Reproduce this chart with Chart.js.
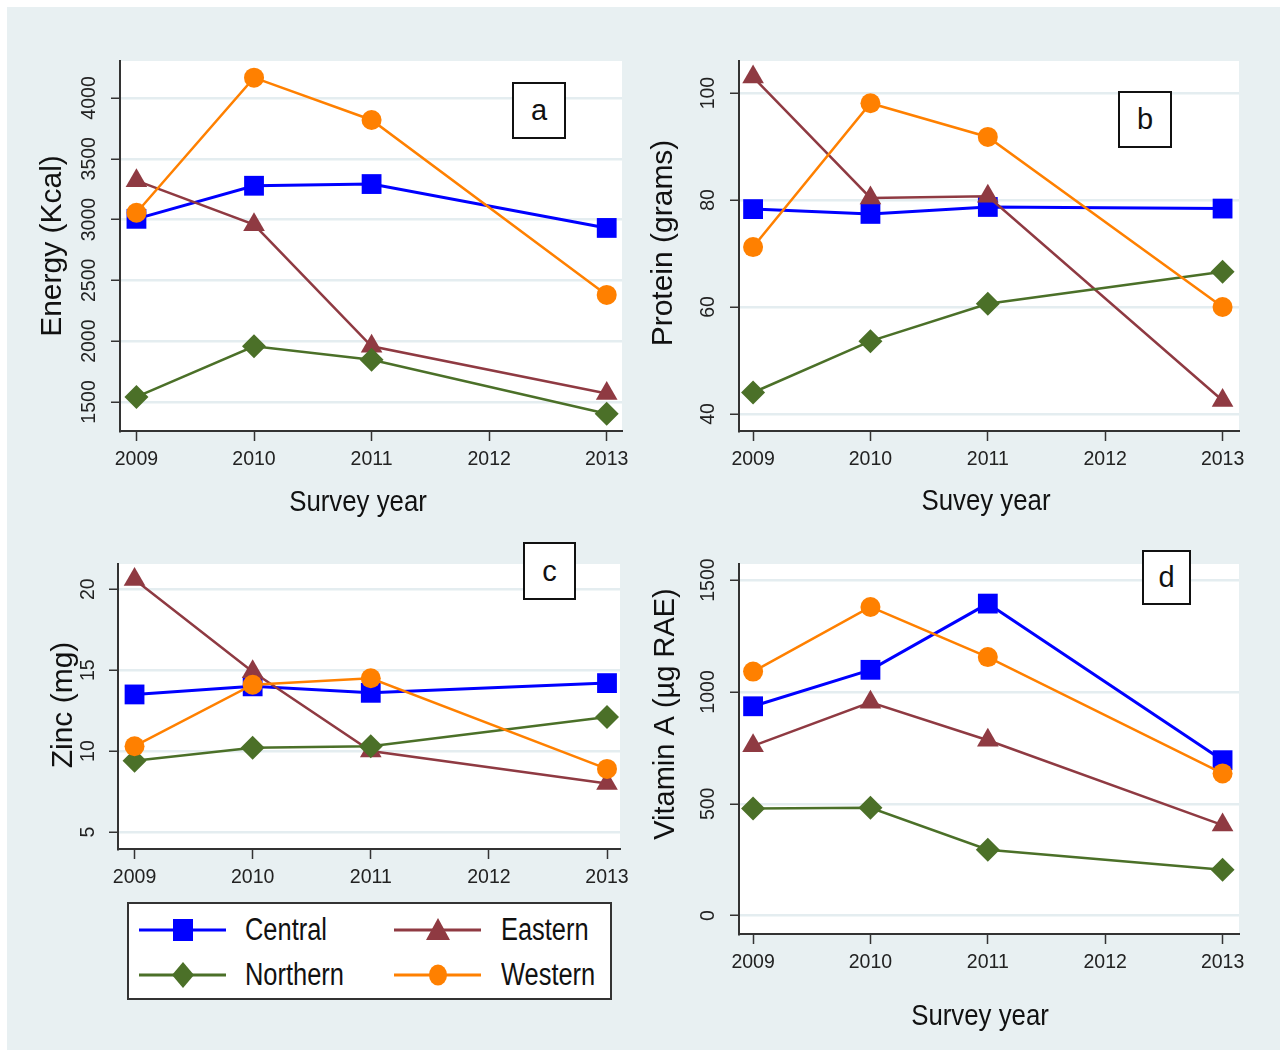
<!DOCTYPE html>
<html>
<head>
<meta charset="utf-8">
<script src="https://cdn.jsdelivr.net/npm/chart.js@4.4.1/dist/chart.umd.min.js"></script>
<style>
  body { margin:0; background:#fff; width:1284px; height:1055px; position:relative; overflow:hidden; }
  #bg { position:absolute; left:7px; top:7px; width:1273px; height:1043px; background:#e8f0f2; }
  canvas { position:absolute; }
  .tag { position:absolute; background:#fff; border:2px solid #111; box-sizing:border-box;
         font:29px "Liberation Sans", Arial, sans-serif; color:#111;
         display:flex; align-items:center; justify-content:center; }
  #legend { position:absolute; left:127px; top:902px; width:485px; height:98px; background:#fff;
            border:2px solid #333; box-sizing:border-box; }
  #legend svg, #legend span { position:absolute; }
  #legend span { font:31px "Liberation Sans", Arial, sans-serif; color:#111; line-height:34px;
                 transform:scaleX(0.82); transform-origin:left center; white-space:nowrap; }
</style>
</head>
<body>
<div id="bg"></div>
<canvas id="chartA" width="640" height="530" style="left:0;top:0;width:640px;height:530px"></canvas>
<canvas id="chartB" width="644" height="530" style="left:640px;top:0;width:644px;height:530px"></canvas>
<canvas id="chartC" width="640" height="370" style="left:0;top:530px;width:640px;height:370px"></canvas>
<canvas id="chartD" width="644" height="525" style="left:640px;top:530px;width:644px;height:525px"></canvas>
<div class="tag" style="left:512px;top:82px;width:54px;height:57px">a</div>
<div class="tag" style="left:1118px;top:91px;width:54px;height:57px">b</div>
<div class="tag" style="left:523px;top:542px;width:53px;height:58px">c</div>
<div class="tag" style="left:1142px;top:550px;width:49px;height:55px">d</div>
<div id="legend"></div>
<script>
// data
const years = [2009, 2010, 2011, 2013];
const yearTicks = [2009, 2010, 2011, 2012, 2013];
const regions = ['Central', 'Eastern', 'Northern', 'Western'];

const energyCentral = [3006, 3278, 3292, 2931];
const energyEastern = [3320, 2958, 1958, 1569];
const energyNorthern = [1541, 1958, 1847, 1403];
const energyWestern = [3056, 4167, 3819, 2380];
const energyTicks = [1500, 2000, 2500, 3000, 3500, 4000];

const proteinCentral = [78.3, 77.4, 78.7, 78.4];
const proteinEastern = [103, 80.4, 80.7, 42.5];
const proteinNorthern = [44, 53.6, 60.6, 66.6];
const proteinWestern = [71.2, 98.1, 91.8, 60.0];
const proteinTicks = [40, 60, 80, 100];

const zincCentral = [13.5, 14.0, 13.6, 14.2];
const zincEastern = [20.6, 14.9, 10.0, 8.0];
const zincNorthern = [9.4, 10.2, 10.3, 12.1];
const zincWestern = [10.3, 14.1, 14.5, 8.9];
const zincTicks = [5, 10, 15, 20];

const vitaminCentral = [936, 1099, 1395, 695];
const vitaminEastern = [759, 954, 784, 405];
const vitaminNorthern = [479, 482, 295, 205];
const vitaminWestern = [1091, 1380, 1156, 636];
const vitaminTicks = [0, 500, 1000, 1500];

// styles
const SANS = '"Liberation Sans", Arial, sans-serif';
const regionColors = ['#0000ff', '#8f3a42', '#4b7028', '#ff8000'];
const regionMarkers = ['rect', 'triangle', 'rectRot', 'circle'];
const markerRadius = [14, 12.5, 12, 10];
const lineWidths = [3, 2.5, 2.5, 2.5];

function makeDatasets(series) {
    return series.map((vals, i) => ({
        label: regions[i],
        data: years.map((yr, j) => ({x: yr, y: vals[j]})),
        borderColor: regionColors[i],
        backgroundColor: regionColors[i],
        borderWidth: lineWidths[i],
        pointStyle: regionMarkers[i],
        pointRadius: markerRadius[i],
        pointBorderWidth: 0,
        tension: 0,
        order: 4 - i,
    }));
}

// white plot area + axis titles
const panelPlugin = {
    id: 'panel',
    beforeDraw(chart) {
        const {ctx, chartArea: a} = chart;
        ctx.save();
        ctx.fillStyle = '#fff';
        ctx.fillRect(a.left, a.top, a.right - a.left, a.bottom - a.top);
        ctx.restore();
    },
    afterDraw(chart, args, opts) {
        const ctx = chart.ctx;
        ctx.save();
        ctx.fillStyle = '#111';
        ctx.textAlign = 'center';
        ctx.textBaseline = 'middle';
        ctx.font = opts.yFont;
        ctx.translate(opts.yPos[0], opts.yPos[1]);
        ctx.rotate(-Math.PI / 2);
        ctx.fillText(opts.yTitle, 0, 0);
        ctx.restore();
        if (opts.xTitle) {
            // narrow look: squeeze the title horizontally
            ctx.save();
            ctx.fillStyle = '#111';
            ctx.textAlign = 'center';
            ctx.textBaseline = 'middle';
            ctx.font = '30px ' + SANS;
            ctx.translate(opts.xPos[0], opts.xPos[1]);
            ctx.scale(0.86, 1);
            ctx.fillText(opts.xTitle, 0, 0);
            ctx.restore();
        }
    }
};

function makeChart(id, series, cfg) {
    return new Chart(document.getElementById(id), {
        type: 'line',
        data: { datasets: makeDatasets(series) },
        options: {
            responsive: false,
            animation: false,
            layout: { padding: cfg.padding },
            plugins: {
                legend: { display: false },
                tooltip: { enabled: false },
                panel: cfg.titles
            },
            scales: {
                x: {
                    type: 'linear',
                    min: cfg.xMin, max: cfg.xMax,
                    afterBuildTicks: s => { s.ticks = yearTicks.map(v => ({value: v})); },
                    afterFit: s => { s.height = 40; },
                    grid: { drawOnChartArea: false, tickLength: 10, tickColor: '#333', tickWidth: 1.5 },
                    border: { color: '#333', width: 2 },
                    ticks: { font: {family: SANS, size: 19.5}, color: '#222', padding: 7,
                             maxRotation: 0, autoSkip: false, callback: v => String(v) }
                },
                y: {
                    type: 'linear',
                    min: cfg.yMin, max: cfg.yMax,
                    afterBuildTicks: s => { s.ticks = cfg.yTicks.map(v => ({value: v})); },
                    afterFit: s => { s.width = 45; },
                    grid: { color: '#e4edf0', lineWidth: 2.5, tickLength: 9, tickColor: '#333', tickWidth: 1.5 },
                    border: { color: '#333', width: 2 },
                    ticks: { font: {family: SANS, size: 19.5}, color: '#222', minRotation: 90, maxRotation: 90,
                             crossAlign: 'center', padding: cfg.yTickPad, callback: v => String(v) }
                }
            }
        },
        plugins: [panelPlugin]
    });
}

makeChart('chartA', [energyCentral, energyEastern, energyNorthern, energyWestern], {
    padding: {left: 75, right: 18, top: 61, bottom: 59},
    xMin: 2008.86, xMax: 2013.13, yMin: 1261, yMax: 4304, yTicks: energyTicks, yTickPad: 0,
    titles: {yTitle: 'Energy (Kcal)', yFont: '30px ' + SANS, yPos: [53, 246],
             xTitle: 'Survey year', xPos: [358, 503]}
});

makeChart('chartB', [proteinCentral, proteinEastern, proteinNorthern, proteinWestern], {
    padding: {left: 54, right: 45, top: 61, bottom: 59},
    xMin: 2008.88, xMax: 2013.14, yMin: 36.8, yMax: 106, yTicks: proteinTicks, yTickPad: 5,
    titles: {yTitle: 'Protein (grams)', yFont: '30px ' + SANS, yPos: [23.5, 243],
             xTitle: 'Suvey year', xPos: [346, 502]}
});

makeChart('chartC', [zincCentral, zincEastern, zincNorthern, zincWestern], {
    padding: {left: 73, right: 20, top: 34, bottom: 11},
    xMin: 2008.86, xMax: 2013.11, yMin: 3.95, yMax: 21.56, yTicks: zincTicks, yTickPad: 10,
    titles: {yTitle: 'Zinc (mg)', yFont: '30px ' + SANS, yPos: [64, 175]}
});

makeChart('chartD', [vitaminCentral, vitaminEastern, vitaminNorthern, vitaminWestern], {
    padding: {left: 54, right: 45, top: 34, bottom: 81},
    xMin: 2008.88, xMax: 2013.14, yMin: -82, yMax: 1572, yTicks: vitaminTicks, yTickPad: 0,
    titles: {yTitle: 'Vitamin A (µg RAE)', yFont: '29px ' + SANS, yPos: [26, 184],
             xTitle: 'Survey year', xPos: [340, 487]}
});

// legend (Stata style: line with marker in the middle)
const legend = document.getElementById('legend');
const colX = [[10, 116], [265, 372]];
const rowY = [26, 71];
const SVGNS = 'http://www.w3.org/2000/svg';
regions.forEach((name, i) => {
    const col = i % 2, row = Math.floor(i / 2);
    const svg = document.createElementNS(SVGNS, 'svg');
    svg.setAttribute('width', 87);
    svg.setAttribute('height', 30);
    svg.style.left = colX[col][0] + 'px';
    svg.style.top = (rowY[row] - 15) + 'px';
    const c = regionColors[i];
    let html = '<line x1="0" y1="15" x2="87" y2="15" stroke="' + c + '" stroke-width="3"/>';
    if (regionMarkers[i] === 'rect') html += '<rect x="34" y="4" width="20" height="22" fill="' + c + '"/>';
    if (regionMarkers[i] === 'triangle') html += '<polygon points="44,3 32,25 56,25" fill="' + c + '"/>';
    if (regionMarkers[i] === 'rectRot') html += '<polygon points="44,2 55,15 44,28 33,15" fill="' + c + '"/>';
    if (regionMarkers[i] === 'circle') html += '<ellipse cx="44" cy="15" rx="9" ry="10.5" fill="' + c + '"/>';
    svg.innerHTML = html;
    legend.appendChild(svg);
    const span = document.createElement('span');
    span.textContent = name;
    span.style.left = colX[col][1] + 'px';
    span.style.top = (rowY[row] - 17) + 'px';
    legend.appendChild(span);
});
</script>
</body>
</html>
